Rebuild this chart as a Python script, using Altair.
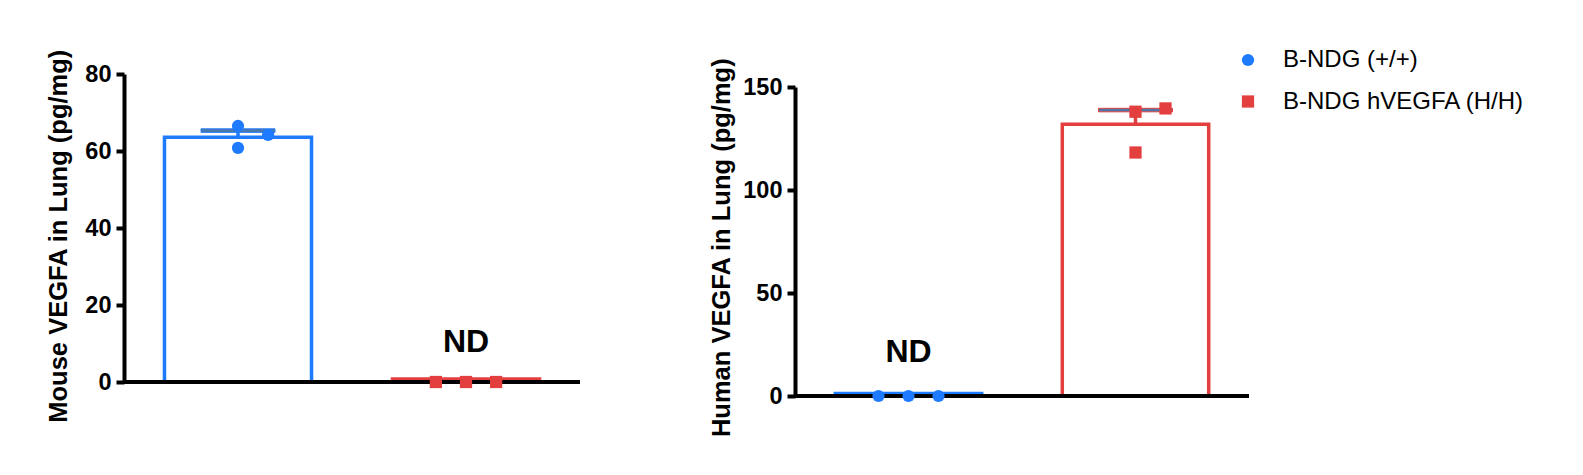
import altair as alt
import pandas as pd

FONT = "Liberation Sans"

groups = ["B-NDG (+/+)", "B-NDG hVEGFA (H/H)"]
colors = ["#1E7BFF", "#E33F3F"]
shapes = ["circle", "square"]

# Mouse VEGFA panel
mouse_means = [63.6, 0.8]
mouse_sems = [1.7, 0.0]
mouse_labels = ["", "ND"]
mouse_points_wt = [66.5, 60.8, 64.2]
mouse_points_h = [0.0, 0.0, 0.0]
mouse_slots_wt = [0, 0, 1]
mouse_slots_h = [-1, 0, 1]
mouse_ticks = [0, 20, 40, 60, 80]

# Human VEGFA panel
human_means = [1.2, 131.9]
human_sems = [0.0, 6.9]
human_labels = ["ND", ""]
human_points_wt = [0.0, 0.0, 0.0]
human_points_h = [138.0, 139.6, 118.2]
human_slots_wt = [-1, 0, 1]
human_slots_h = [0, 1, 0]
human_ticks = [0, 50, 100, 150]

slot_domain = [-2, -1, 0, 1, 2]

legend = alt.Legend(title=None, orient="none", legendX=1112, legendY=-26,
                    labelFontSize=24, labelFont=FONT, labelColor="black", labelLimit=0,
                    symbolSize=150, labelOffset=23, rowPadding=17.5, padding=0,
                    symbolStrokeWidth=0)


def panel(means, sems, labels, pts_wt, pts_h, slots_wt, slots_h, ticks, ytitle,
          width, height, yrange, title_pad, title_y, nd_dy):
    bars = pd.DataFrame({"group": groups, "value": means})
    err = pd.DataFrame({"group": groups, "value": means,
                        "upper": [m + s for m, s in zip(means, sems)], "sem": sems})
    err = err[err["sem"] > 0]
    caps = pd.DataFrame({"group": err["group"], "value": err["upper"]})
    pts = pd.DataFrame({
        "group": [groups[0]] * len(pts_wt) + [groups[1]] * len(pts_h),
        "value": pts_wt + pts_h,
        "slot": slots_wt + slots_h,
    })
    nd = pd.DataFrame({"group": groups, "value": [0, 0], "label": labels})
    nd = nd[nd["label"] != ""]
    base_line = pd.DataFrame({"value": [0]})

    x = alt.X("group:N", scale=alt.Scale(type="band", domain=groups, paddingInner=0.355,
                                         paddingOuter=0.1775), axis=None)
    y = alt.Y("value:Q", scale=alt.Scale(domain=[0, ticks[-1]], nice=False, range=yrange),
              axis=alt.Axis(values=ticks, title=ytitle, titleFontSize=25.5,
                            titleFont=FONT, titleFontWeight="bold", titleColor="black",
                            titlePadding=title_pad, titleY=title_y,
                            labelFontSize=23.5, labelFont=FONT, labelFontWeight="bold",
                            labelColor="black", labelPadding=5, tickSize=8,
                            tickWidth=4, tickColor="black", domainColor="black",
                            domainWidth=4, grid=False))
    stroke = alt.Stroke("group:N", scale=alt.Scale(domain=groups, range=colors),
                        legend=legend)

    bar_layer = alt.Chart(bars).mark_bar(fill="white", strokeWidth=3.5).encode(
        x=x, y=y, stroke=stroke)
    axis_line = alt.Chart(base_line).mark_rule(color="black", strokeWidth=4).encode(y=y)
    err_rule = alt.Chart(err).mark_rule(strokeWidth=3.5, opacity=1).encode(
        x=x, y=y, y2="upper:Q", stroke=stroke)
    cap = alt.Chart(caps).mark_tick(thickness=3.5, size=74, opacity=1).encode(
        x=x, y=y, stroke=stroke)
    text = alt.Chart(nd).mark_text(fontSize=32, font=FONT, fontWeight="bold",
                                   color="black", dy=nd_dy, baseline="middle",
                                   align="center").encode(x=x, y=y, text="label:N")
    points = alt.Chart(pts).mark_point(filled=True, size=150, opacity=1).encode(
        x=x,
        xOffset=alt.XOffset("slot:N", scale=alt.Scale(domain=slot_domain, paddingInner=0,
                                                       paddingOuter=0.44)),
        y=y,
        color=alt.Color("group:N", scale=alt.Scale(domain=groups, range=colors),
                        legend=legend),
        shape=alt.Shape("group:N", scale=alt.Scale(domain=groups, range=shapes),
                        legend=legend),
    )
    return alt.layer(bar_layer, axis_line, err_rule, cap, text, points).resolve_scale(
        x="independent", xOffset="independent").properties(width=width, height=height)


left = panel(mouse_means, mouse_sems, mouse_labels, mouse_points_wt, mouse_points_h,
             mouse_slots_wt, mouse_slots_h, mouse_ticks,
             "Mouse VEGFA in Lung (pg/mg)", 456, 308, [308, 0], 13, 161.7, -40)
right = panel(human_means, human_sems, human_labels, human_points_wt, human_points_h,
              human_slots_wt, human_slots_h, human_ticks,
              "Human VEGFA in Lung (pg/mg)", 454, 322, [322, 13], 8, 173.2, -44)

chart = alt.hconcat(left, right, spacing=127).properties(
    padding={"left": 38, "top": 40, "right": 5, "bottom": 5},
    background="white",
).configure_view(stroke=None)

chart.save("out.html", embed_options={"renderer": "svg", "actions": False})
